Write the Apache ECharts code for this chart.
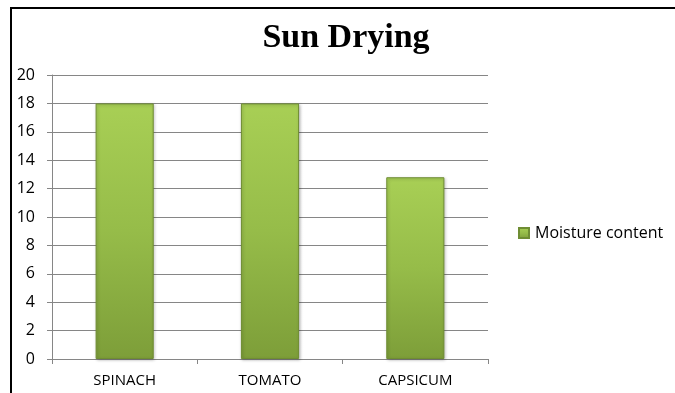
<!DOCTYPE html>
<html>
<head>
<meta charset="utf-8">
<script src="https://cdn.jsdelivr.net/npm/echarts@6/dist/echarts.min.js"></script>
<style>
  html, body { margin: 0; padding: 0; background: #fff; }
  #chart { width: 675px; height: 393px; }
</style>
</head>
<body>
<div id="chart"></div>
<script>
const title = 'Sun Drying'
const categories = ['SPINACH', 'TOMATO', 'CAPSICUM']
const seriesName = 'Moisture content'
const moisture = [18, 18, 12.8]
const yTicks = { min: 0, max: 20, interval: 2 }

const barFill = new echarts.graphic.LinearGradient(0, 0, 0, 1, [
  { offset: 0, color: '#a8cf55' },
  { offset: 0.5, color: '#96bc49' },
  { offset: 1, color: '#7d9e39' }
])

const chart = echarts.init(document.getElementById('chart'), null, { renderer: 'canvas' })

chart.setOption({
  animation: false,
  backgroundColor: '#fff',
  title: {
    text: title,
    left: 341,
    top: 16,
    textAlign: 'center',
    textStyle: {
      fontFamily: 'Liberation Serif',
      fontWeight: 'bold',
      fontSize: 34,
      color: '#000'
    }
  },
  legend: {
    data: [seriesName],
    orient: 'vertical',
    left: 513,
    top: 220,
    itemWidth: 10,
    itemHeight: 10,
    itemGap: 6,
    icon: 'rect',
    textStyle: { fontFamily: 'Open Sans', fontSize: 16, color: '#000', padding: [0, 0, 0, 1] }
  },
  grid: {
    left: 52,
    right: 187,
    top: 75,
    bottom: 34,
    containLabel: false
  },
  xAxis: {
    type: 'category',
    data: categories,
    axisLine: { lineStyle: { color: '#868686' } },
    axisTick: { show: true, length: 5, lineStyle: { color: '#868686' } },
    axisLabel: { fontFamily: 'Open Sans', fontSize: 15, color: '#000', margin: 14 }
  },
  yAxis: {
    type: 'value',
    min: yTicks.min,
    max: yTicks.max,
    interval: yTicks.interval,
    axisLine: { show: true, lineStyle: { color: '#868686' } },
    axisTick: { show: true, length: 5, lineStyle: { color: '#868686' } },
    splitLine: { lineStyle: { color: '#868686' } },
    axisLabel: { fontFamily: 'Open Sans', fontSize: 16, color: '#000', margin: 17 }
  },
  series: [{
    name: seriesName,
    type: 'bar',
    data: moisture,
    barWidth: '40%',
    itemStyle: {
      color: barFill,
      borderColor: '#6f8d33',
      borderWidth: 1,
      shadowColor: 'rgba(0,0,0,0.25)',
      shadowBlur: 3,
      shadowOffsetX: 1,
      shadowOffsetY: 1
    }
  }],
  graphic: [
    { type: 'line', shape: { x1: 10, y1: 8, x2: 675, y2: 8 }, style: { stroke: '#000', lineWidth: 2 } },
    { type: 'line', shape: { x1: 11, y1: 8, x2: 11, y2: 393 }, style: { stroke: '#000', lineWidth: 2 } }
  ]
})
</script>
</body>
</html>
